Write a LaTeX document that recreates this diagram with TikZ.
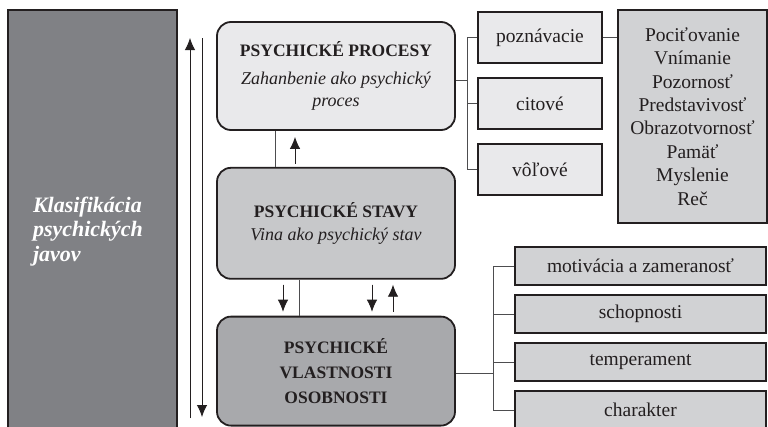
\documentclass[tikz,border=0pt]{standalone}
\usepackage{fontspec}
\setmainfont{Liberation Serif}
\usetikzlibrary{positioning,arrows.meta}

\definecolor{inkc}{HTML}{231F20}
\definecolor{darkc}{HTML}{808185}
\definecolor{procc}{HTML}{E9E9EB}
\definecolor{stavc}{HTML}{C7C8CA}
\definecolor{vlastc}{HTML}{A8A9AC}
\definecolor{listc}{HTML}{D1D2D4}
\definecolor{linec}{HTML}{4D4D4F}

\tikzset{
  mainbox/.style={draw=inkc, line width=1.8pt, rounded corners=14pt, minimum width=238pt, align=center, text=inkc, font=\fontsize{18}{22}\selectfont},
  sidebox/.style={draw=inkc, line width=1.8pt, align=center, text=inkc, font=\fontsize{19.5}{23.4}\selectfont},
  link/.style={draw=linec, line width=0.9pt},
  tip/.style={-{Latex[length=12pt,width=10.5pt]}, line width=0.9pt, draw=inkc, fill=inkc},
}

\begin{document}
\begin{tikzpicture}[x=1pt,y=-1pt]
    \useasboundingbox (0,0) rectangle (768,426);

    % Draw classification column
    \node[draw=inkc, line width=1.8pt, fill=darkc, minimum width=169pt, minimum height=443pt, text width=119pt, align=left, text=white, font=\fontsize{22}{24.5}\selectfont\bfseries\itshape] (klas) at (92.5,231.5) {Klasifikácia\\psychických\\javov};

    % Draw main boxes
    \node[mainbox, fill=procc, minimum height=108pt] (proc) at (336,76) {{\fontsize{17.5}{22}\selectfont\bfseries PSYCHICKÉ PROCESY}\\[6pt]\itshape Zahanbenie ako psychický\\\itshape proces};
    \node[mainbox, fill=stavc, minimum height=111pt, below=36pt of proc] (stav) {{\fontsize{17.5}{22}\selectfont\bfseries PSYCHICKÉ STAVY}\\[1pt]\itshape Vina ako psychický stav};
    \node[mainbox, fill=vlastc, minimum height=109pt, below=36pt of stav, font=\fontsize{17.5}{25}\selectfont\bfseries] (vlast) {PSYCHICKÉ\\VLASTNOSTI\\OSOBNOSTI};

    % Draw kinds of processes
    \foreach \n/\t [count=\i] in {pozn/poznávacie, cit/citové, vol/vôľové}
      \node[sidebox, fill=procc, minimum width=124pt, minimum height=51pt] (\n) at (540,{37.5+66*(\i-1)}) {\t};

    \node[sidebox, fill=listc, minimum width=149pt, minimum height=213pt] (zoz) at (692.5,116.5) {Pociťovanie\\Vnímanie\\Pozornosť\\Predstavivosť\\Obrazotvornosť\\Pamäť\\Myslenie\\Reč};

    % Draw kinds of properties
    \foreach \n/\t [count=\i] in {mot/motivácia a zameranosť, sch/schopnosti, tem/temperament, cha/charakter}
      \node[sidebox, fill=listc, minimum width=251pt, minimum height=38pt] (\n) at (640.5,{218+48*\i}) {\t};

    % Links from processes
    \coordinate (busA) at ([xshift=12pt,yshift=-4pt]proc.east);
    \draw[link] ([yshift=-4pt]proc.east) -- (busA);
    \foreach \n in {pozn,cit,vol}
      \draw[link] (busA) |- (\n.west);
    \draw[link] (pozn.east) -- (pozn.east -| zoz.west);

    % Links from properties
    \coordinate (busB) at ([xshift=38pt,yshift=-2.5pt]vlast.east);
    \draw[link] ([yshift=-2.5pt]vlast.east) -- (busB);
    \foreach \n in {mot,sch,tem,cha}
      \draw[link] (busB) |- (\n.west);

    % Arrows between main boxes
    \draw[link] ([xshift=-61pt]proc.south) -- ([xshift=-61pt]stav.north);
    \draw[tip] ([xshift=-41pt,yshift=3pt]stav.north) -- ([xshift=-41pt,yshift=-6pt]proc.south);
    \draw[link] ([xshift=-37pt]stav.south) -- ([xshift=-37pt]vlast.north);
    \draw[tip] ([xshift=-53pt,yshift=-5pt]stav.south) -- ([xshift=-53pt,yshift=4pt]vlast.north);
    \draw[tip] ([xshift=36pt,yshift=-5pt]stav.south) -- ([xshift=36pt,yshift=4pt]vlast.north);
    \draw[tip] ([xshift=57pt,yshift=4pt]vlast.north) -- ([xshift=57pt,yshift=-5pt]stav.south);

    % Long arrows along the column
    \coordinate (upS) at (190,418);
    \coordinate (upE) at (190,38);
    \coordinate (dnS) at (202,38);
    \coordinate (dnE) at (202,417);
    \draw[tip] (upS) -- (upE);
    \draw[tip] (dnS) -- (dnE);
\end{tikzpicture}
\end{document}
